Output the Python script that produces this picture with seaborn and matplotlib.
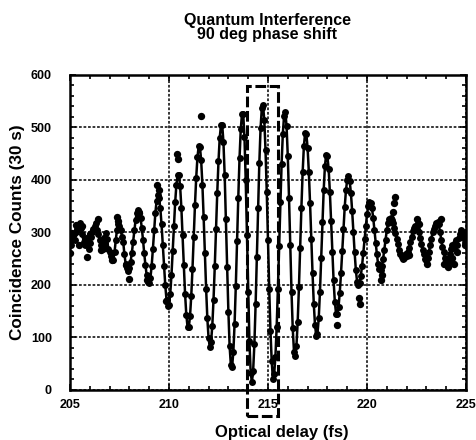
import numpy as np
import matplotlib
matplotlib.use("Agg")
import matplotlib.pyplot as plt
import seaborn as sns
from matplotlib.patches import Rectangle
from matplotlib.ticker import MultipleLocator

# scan settings (fs), one reading every 1/16 fs
delay_start = 205.0
delay_stop = 225.0
delay_step = 0.0625

# coincidence counts per 30 s, one row per fs
counts = [
    282, 275, 290, 296, 285, 300, 306, 312, 318, 308, 296, 282, 276, 290, 278, 268,   # 205
    280, 292, 300, 306, 312, 318, 305, 296, 285, 276, 284, 268, 278, 298, 288, 268,   # 206
    262, 255, 250, 248, 262, 285, 305, 315, 312, 305, 292, 282, 258, 240, 232, 226,   # 207
    232, 244, 261, 282, 304, 323, 336, 342, 339, 328, 309, 286, 260, 237, 218, 206,   # 208
    203, 213, 236, 268, 304, 337, 360, 371, 366, 346, 315, 276, 236, 199, 172, 159,   # 209
    162, 182, 218, 264, 312, 357, 391, 409, 409, 388, 347, 294, 237, 183, 143, 120,   # 210
    119, 140, 179, 231, 292, 352, 404, 443, 464, 463, 437, 391, 329, 260, 193, 136,   # 211
    98, 82, 91, 122, 172, 235, 306, 375, 435, 480, 504, 505, 472, 409, 325, 234,      # 212
    149, 83, 47, 44, 72, 125, 198, 283, 366, 441, 496, 526, 525, 481, 399, 295,       # 213
    186, 93, 33, 15, 36, 87, 163, 253, 347, 432, 498, 536, 542, 514, 457, 377,        # 214
    285, 192, 112, 55, 20, 30, 63, 119, 192, 274, 357, 431, 488, 522, 529, 503,       # 215
    445, 365, 275, 187, 117, 73, 64, 84, 130, 195, 271, 347, 414, 464, 489, 487,      # 216
    461, 415, 355, 288, 222, 164, 123, 103, 107, 136, 187, 251, 319, 380, 426, 448,   # 217
    445, 421, 377, 322, 263, 209, 168, 145, 144, 158, 185, 222, 264, 307, 348, 380,   # 218
    400, 407, 398, 375, 341, 301, 262, 228, 206, 199, 204, 217, 236, 261, 287, 312,   # 219
    334, 350, 357, 356, 346, 328, 305, 280, 258, 239, 230, 229, 236, 249, 267, 286,   # 220
    304, 318, 326, 327, 324, 317, 308, 299, 287, 277, 266, 258, 253, 250, 252, 256,   # 221
    254, 262, 270, 282, 292, 302, 308, 312, 306, 318, 300, 290, 278, 266, 258, 250,   # 222
    247, 252, 262, 276, 288, 300, 306, 312, 318, 320, 315, 300, 286, 272, 262, 252,   # 223
    245, 238, 246, 258, 268, 276, 272, 280, 285, 276, 290, 296, 304, 300, 292, 286,   # 224
    290,
]

# repeat readings that sit off the main trace
extra_delay = [205.0, 205.1, 205.3, 205.45, 205.62, 205.87, 206.0, 206.4, 206.55, 206.7,
               207.1, 207.36, 207.42, 207.85, 207.96, 208.42, 208.48, 208.9, 209.38, 209.5,
               209.84, 210.4, 210.44, 211.6, 218.5, 219.6, 219.64, 220.72, 220.78, 221.3,
               221.36, 221.42, 221.95, 222.1, 222.55, 222.62, 223.05, 223.72, 223.9, 224.1,
               224.3, 224.4, 224.55, 224.95, 225.0]
extra_counts = [260, 298, 314, 276, 312, 253, 296, 326, 266, 290,
                247, 330, 322, 237, 212, 330, 336, 210, 390, 381,
                170, 450, 439, 521, 123, 175, 163, 209, 218, 339,
                355, 368, 258, 256, 325, 316, 240, 326, 240, 234,
                251, 240, 262, 276, 300]

# highlighted window
box_delay = [213.92, 215.52]
box_counts = [-50, 578]

delay = np.arange(delay_start, delay_stop + delay_step / 2, delay_step)

sns.set_style("ticks")
plt.rcParams['font.family'] = ['Liberation Sans', 'DejaVu Sans']
plt.rcParams['font.weight'] = 'bold'
plt.rcParams['text.color'] = 'black'
plt.rcParams['axes.labelcolor'] = 'black'
plt.rcParams['axes.edgecolor'] = 'black'
plt.rcParams['xtick.color'] = 'black'
plt.rcParams['ytick.color'] = 'black'

fig = plt.figure(figsize=(4.76, 4.4), dpi=100)
ax = fig.add_axes([0.147, 0.114, 0.832, 0.716])

sns.lineplot(x=delay, y=counts, ax=ax, color='black', lw=1.8, marker='o',
             markersize=5, markeredgewidth=0, estimator=None, sort=False, zorder=3)
sns.scatterplot(x=extra_delay, y=extra_counts, ax=ax, color='black', s=28,
                linewidth=0, zorder=3)

ax.add_patch(Rectangle((box_delay[0], box_counts[0]), box_delay[1] - box_delay[0],
                       box_counts[1] - box_counts[0], fill=False, ec='black', lw=2.2,
                       ls=(0, (3.5, 1.2)), clip_on=False, zorder=5))

ax.set_xlim(205, 225)
ax.set_ylim(0, 600)
ax.xaxis.set_major_locator(MultipleLocator(5))
ax.xaxis.set_minor_locator(MultipleLocator(1))
ax.yaxis.set_major_locator(MultipleLocator(100))
ax.yaxis.set_minor_locator(MultipleLocator(20))
ax.grid(True, which='major', ls=(0, (1.5, 1)), color='0.15', lw=1.3)
ax.set_axisbelow(True)

ax.tick_params(which='both', direction='in', top=True, right=True, width=1.2, labelsize=9,
               colors='black')
ax.tick_params(which='major', length=4)
ax.tick_params(which='minor', length=3)
ax.tick_params(axis='y', pad=13)
ax.tick_params(axis='x', pad=6.5)
for lab in ax.get_xticklabels() + ax.get_yticklabels():
    lab.set_fontweight('bold')
for s in ax.spines.values():
    s.set_linewidth(1.8)
    s.set_color('black')

ax.set_xlabel("Optical delay (fs)", fontsize=12, fontweight='bold')
ax.set_ylabel("Coincidence Counts (30 s)", fontsize=12.3, fontweight='bold')
ax.xaxis.set_label_coords(0.535, -0.112)
ax.yaxis.set_label_coords(-0.114, 0.5)

fig.text(0.561, 0.9375, "Quantum Interference\n90 deg phase shift", ha='center', va='center',
         fontsize=11.5, fontweight='bold', linespacing=1.0)

fig.savefig("out.png", dpi=100)
